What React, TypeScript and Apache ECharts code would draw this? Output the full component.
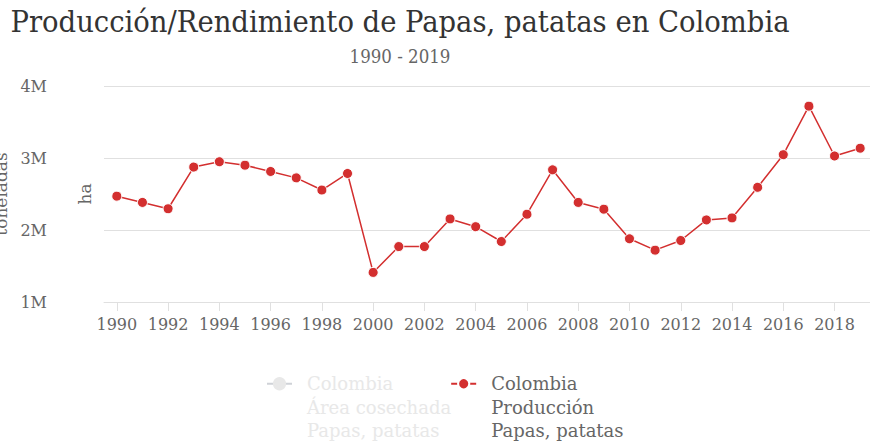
import React, { useEffect, useRef } from "react";
import * as echarts from "echarts";

const years = ["1990","1991","1992","1993","1994","1995","1996","1997","1998","1999","2000","2001","2002","2003","2004","2005","2006","2007","2008","2009","2010","2011","2012","2013","2014","2015","2016","2017","2018","2019"];
const produccion = [2470000,2383000,2295000,2874000,2948000,2900000,2813000,2724000,2555000,2785000,1411000,1770000,1770000,2154000,2046000,1840000,2219000,2836000,2383000,2289000,1878000,1720000,1854000,2140000,2168000,2593000,3046000,3720000,3028000,3136000];
const areaCosechada: number[] = [];

const titleText = "Producción/Rendimiento de Papas, patatas en Colombia";
const subtitleText = "1990 - 2019";
const seriesProdName = "Colombia\nProducción\nPapas, patatas";
const seriesAreaName = "Colombia\nÁrea cosechada\nPapas, patatas";

const FONT = "DejaVu Serif";
const FONT_C = "'DejaVu Serif Condensed', 'DejaVu Serif'";

export default function App() {
  const ref = useRef<HTMLDivElement>(null);
  useEffect(() => {
    const chart = echarts.init(ref.current!, null, { renderer: "svg" });
    chart.setOption({
      animation: false,
      textStyle: { fontFamily: FONT },
      title: [
        {
          text: titleText,
          left: 400,
          top: 6,
          textAlign: "center",
          padding: 0,
          textStyle: { fontFamily: FONT_C, fontSize: 30.5, fontWeight: "normal", color: "#333" },
        },
        {
          text: subtitleText,
          left: 400,
          top: 47,
          textAlign: "center",
          padding: 0,
          textStyle: { fontFamily: FONT_C, fontSize: 18.5, fontWeight: "normal", color: "#666" },
        },
      ],
      legend: {
        left: 266,
        top: 325,
        padding: 0,
        itemWidth: 25,
        itemHeight: 14,
        itemGap: -1,
        inactiveColor: "#e8e8e8",
        inactiveBorderColor: "#e8e8e8",
        data: [seriesAreaName, seriesProdName],
        selected: { [seriesAreaName]: false, [seriesProdName]: true },
        formatter: (name: string) => "\n\n" + name,
        textStyle: { fontFamily: FONT, fontSize: 18, color: "#666", lineHeight: 23.5, padding: [0, 0, 0, 10] },
      },
      grid: { left: 104, right: -3, top: 86, bottom: 141, containLabel: false, outerBoundsMode: "none" },
      xAxis: {
        type: "category",
        data: years,
        boundaryGap: true,
        axisLine: { show: true, lineStyle: { color: "#e0e0e0" } },
        axisTick: { show: true, interval: 1, alignWithLabel: true, length: 9, lineStyle: { color: "#e0e0e0" } },
        axisLabel: { interval: 1, color: "#666", fontSize: 16, fontFamily: FONT, margin: 14 },
        splitLine: { show: false },
      },
      yAxis: [
        {
          type: "value",
          min: 1000000,
          max: 4000000,
          interval: 1000000,
          position: "left",
          name: "toneladas",
          nameLocation: "middle",
          nameGap: 93,
          nameTextStyle: { fontFamily: FONT, fontSize: 17, color: "#666" },
          axisLine: { show: false },
          axisTick: { show: false },
          axisLabel: {
            color: "#666",
            fontSize: 16,
            fontFamily: FONT,
            margin: 57,
            formatter: (v: number) => `${v / 1000000}M`,
          },
          splitLine: { show: true, lineStyle: { color: "#e0e0e0" } },
        },
        {
          type: "value",
          min: 0,
          max: 1,
          position: "left",
          name: "ha",
          nameLocation: "middle",
          nameGap: 11,
          nameTextStyle: { fontFamily: FONT, fontSize: 17, color: "#666" },
          axisLine: { show: false },
          axisTick: { show: false },
          axisLabel: { show: false },
          splitLine: { show: false },
        },
      ],
      series: [
        {
          name: seriesAreaName,
          type: "line",
          yAxisIndex: 1,
          data: areaCosechada,
          symbol: "circle",
          symbolSize: 9,
          itemStyle: { color: "#e8e8e8", borderColor: "#fff", borderWidth: 1 },
          lineStyle: { color: "#e8e8e8", width: 1.5 },
        },
        {
          name: seriesProdName,
          type: "line",
          yAxisIndex: 0,
          data: produccion,
          symbol: "circle",
          symbolSize: 10,
          itemStyle: { color: "#d32f2f", borderColor: "#fff", borderWidth: 1 },
          lineStyle: { color: "#d32f2f", width: 1.5 },
        },
      ],
    });
    return () => chart.dispose();
  }, []);
  return <div ref={ref} style={{ width: 870, height: 443, position: "absolute", left: 0, top: 0 }} />;
}
